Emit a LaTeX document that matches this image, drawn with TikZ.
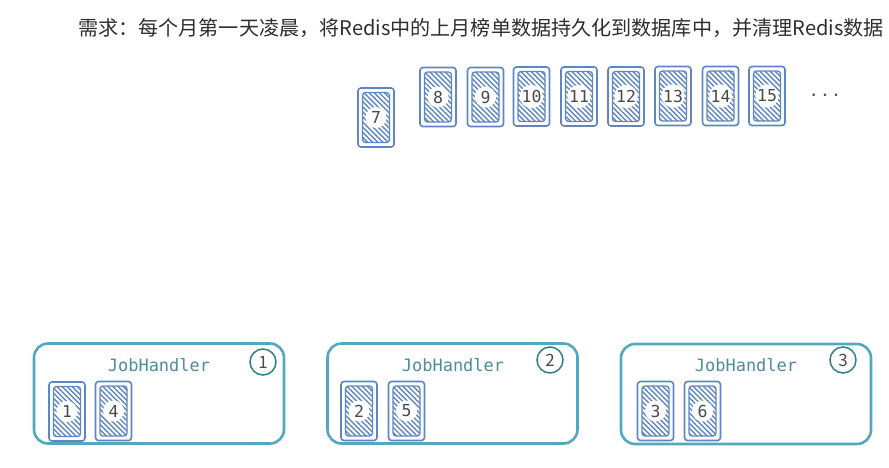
\documentclass[tikz,border=0pt]{standalone}
\usepackage{fontspec}
\setmainfont{Noto Sans CJK SC}
\newfontfamily\monof{DejaVu Sans Mono}
\newfontfamily\cjkf{Noto Sans CJK SC}
\usetikzlibrary{patterns.meta}
\definecolor{cardblue}{HTML}{5E86C2}
\definecolor{boxteal}{HTML}{52A9BE}
\definecolor{circteal}{HTML}{2F7F89}
\definecolor{txtgray}{HTML}{4A4A4A}
\definecolor{jhcol}{HTML}{4C8E99}
\tikzset{
  numdisc/.style={circle, fill=white, minimum size=21pt, inner sep=0pt,
    font=\monof\fontsize{16.5}{16.5}\selectfont, text=txtgray},
  card/.style={draw=cardblue, line width=1.6pt, rounded corners=3pt, fill=white,
    minimum width=36pt, minimum height=59pt, inner sep=0pt,
    label={[numdisc]center:#1},
    path picture={
      \fill[pattern={Lines[angle=-45,distance=3.6pt,line width=1.4pt]}, pattern color=cardblue]
        ([shift={(4.5pt,4.5pt)}]path picture bounding box.south west) rectangle
        ([shift={(-4.5pt,-4.5pt)}]path picture bounding box.north east);
      \draw[cardblue, line width=1.3pt]
        ([shift={(4.5pt,4.5pt)}]path picture bounding box.south west) rectangle
        ([shift={(-4.5pt,-4.5pt)}]path picture bounding box.north east);
    }},
  jobbox/.style={draw=boxteal, line width=2.6pt, rounded corners=14pt, fill=white,
    minimum width=250pt, minimum height=100pt, inner sep=0pt},
  jhlabel/.style={font=\monof\fontsize{17}{17}\selectfont, text=jhcol},
  numcirc/.style={circle, draw=circteal, line width=1.5pt, minimum size=26pt, inner sep=0pt,
    font=\fontsize{17}{17}\selectfont, text=txtgray},
}
\begin{document}
\begin{tikzpicture}[x=1pt,y=-1pt]
\useasboundingbox (0,0) rectangle (889,467);
\node[anchor=west, font=\cjkf\fontsize{20.1}{20.1}\selectfont, text=black!82, inner sep=0pt]
  (title) at (78,28) {需求：每个月第一天凌晨，将Redis中的上月榜单数据持久化到数据库中，并清理Redis数据};
% top cards
\node[card=7] (c7) at (376,117.5) {};
\node[card=8] (c8) at (438,97) {};
\node[card=9] (c9) at (485.5,97) {};
\node[card=10] (c10) at (531.5,96.5) {};
\node[card=11] (c11) at (579,96.5) {};
\node[card=12] (c12) at (626,96.5) {};
\node[card=13] (c13) at (673,96) {};
\node[card=14] (c14) at (720.5,96) {};
\node[card=15] (c15) at (767,96) {};
\node[text=txtgray, font=\fontsize{24}{24}\selectfont] (dots) at (825,96) {$\cdots$};
% job boxes
\node[jobbox] (b1) at (159,393.5) {};
\node[jobbox] (b2) at (452.5,393.5) {};
\node[jobbox] (b3) at (746,394) {};
\node[jhlabel] (j1) at (159,365) {JobHandler};
\node[jhlabel] (j2) at (453,365) {JobHandler};
\node[jhlabel] (j3) at (746,365) {JobHandler};
\node[numcirc] (n1) at (263,362) {1};
\node[numcirc] (n2) at (550,360) {2};
\node[numcirc] (n3) at (843,360) {3};
\node[card=1] (c1) at (67,411.5) {};
\node[card=4] (c4) at (113.5,411) {};
\node[card=2] (c2) at (359,411) {};
\node[card=5] (c5) at (406.5,411) {};
\node[card=3] (c3) at (655.5,411) {};
\node[card=6] (c6) at (702.5,411) {};
\end{tikzpicture}
\end{document}
